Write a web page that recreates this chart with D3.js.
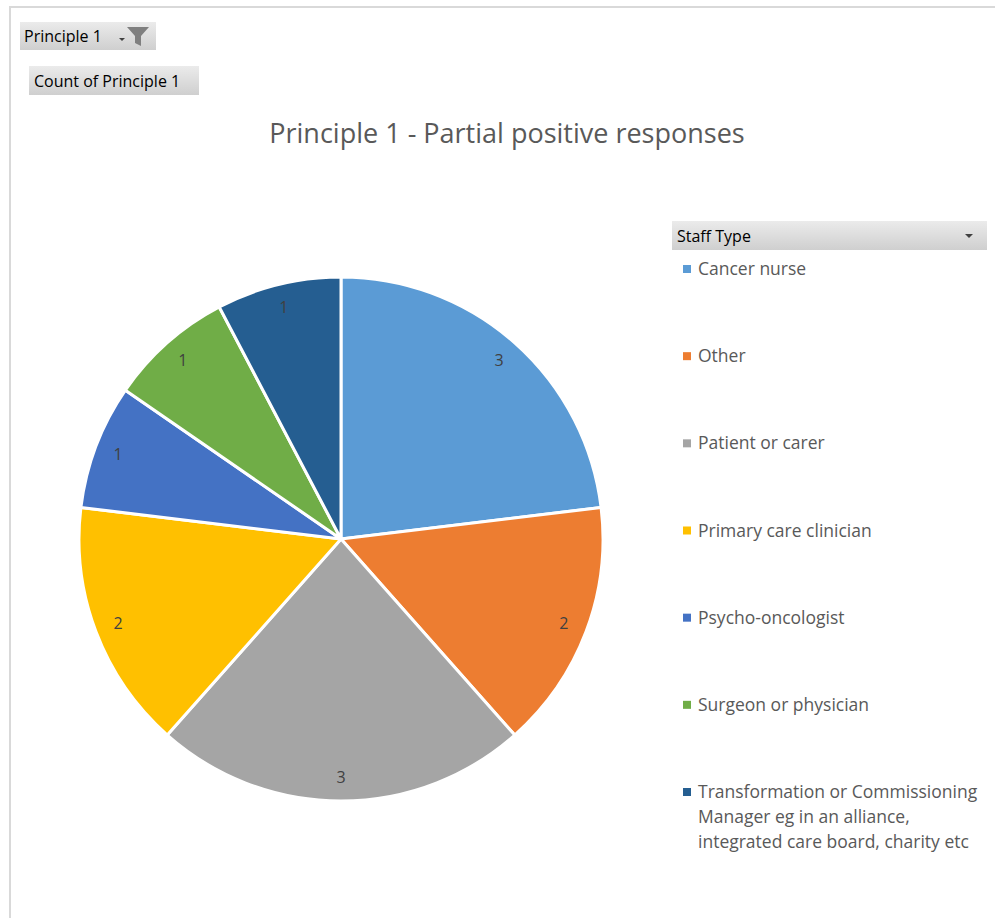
<!DOCTYPE html>
<html>
<head>
<meta charset="utf-8">
<script src="https://cdn.jsdelivr.net/npm/d3@7"></script>
<style>
  body { margin: 0; background: #fff; }
  svg { display: block; }
</style>
</head>
<body>
<div id="chart"></div>
<script>
// data
const categories = ['Cancer nurse', 'Other', 'Patient or carer', 'Primary care clinician',
    'Psycho-oncologist', 'Surgeon or physician',
    'Transformation or Commissioning Manager eg in an alliance, integrated care board, charity etc'];
const counts = [3, 2, 3, 2, 1, 1, 1];
const colors = ['#5b9bd5', '#ed7d31', '#a5a5a5', '#ffc000', '#4472c4', '#70ad47', '#255e91'];
const legendLines = [
    ['Cancer nurse'], ['Other'], ['Patient or carer'], ['Primary care clinician'],
    ['Psycho-oncologist'], ['Surgeon or physician'],
    ['Transformation or Commissioning', 'Manager eg in an alliance,', 'integrated care board, charity etc']
];

const W = 995, H = 918;
const svg = d3.select('#chart').append('svg')
    .attr('width', W)
    .attr('height', H);

const defs = svg.append('defs');
const grad = defs.append('linearGradient')
    .attr('id', 'btn')
    .attr('x1', 0).attr('y1', 0).attr('x2', 0).attr('y2', 1);
grad.append('stop').attr('offset', '0%').attr('stop-color', '#ebebeb');
grad.append('stop').attr('offset', '100%').attr('stop-color', '#cfcfcf');

// chart frame
svg.append('path')
    .attr('d', `M10,${H} L10,7 L${W},7`)
    .attr('fill', 'none')
    .attr('stroke', '#d9d9d9')
    .attr('stroke-width', 2);

// pivot field buttons
const font = '"Open Sans", sans-serif';
const btn1 = svg.append('g').attr('transform', 'translate(20,22)');
btn1.append('rect').attr('width', 136).attr('height', 28).attr('fill', 'url(#btn)');
btn1.append('text').attr('x', 4).attr('y', 20)
    .style('font-family', font).style('font-size', '16px').attr('fill', '#000')
    .text('Principle 1');
btn1.append('path').attr('d', 'M99,16 l6,0 l-3,3 z').attr('fill', '#404040');
btn1.append('path').attr('d', 'M107,5 l22,0 l-8,9 l0,10 l-6,-3 l0,-7 z').attr('fill', '#7f7f7f');

const btn2 = svg.append('g').attr('transform', 'translate(29,66)');
btn2.append('rect').attr('width', 170).attr('height', 29).attr('fill', 'url(#btn)');
btn2.append('text').attr('x', 5).attr('y', 21)
    .style('font-family', font).style('font-size', '16px').attr('fill', '#000')
    .text('Count of Principle 1');

// title
svg.append('text')
    .attr('x', 507).attr('y', 143)
    .attr('text-anchor', 'middle')
    .style('font-family', font).style('font-size', '27px')
    .attr('fill', '#595959')
    .text('Principle 1 - Partial positive responses');

// pie
const cx = 341, cy = 539, r = 262;
const pie = d3.pie().sort(null).value(d => d.value);
const arcs = pie(categories.map((c, i) => ({ name: c, value: counts[i], color: colors[i] })));
const arc = d3.arc().innerRadius(0).outerRadius(r);
const labelArc = d3.arc().innerRadius(r * 0.91).outerRadius(r * 0.91);

const g = svg.append('g').attr('transform', `translate(${cx},${cy})`);
g.selectAll('path.slice')
    .data(arcs)
    .join('path')
    .attr('class', 'slice')
    .attr('d', arc)
    .attr('fill', d => d.data.color)
    .attr('stroke', '#fff')
    .attr('stroke-width', 3)
    .attr('stroke-linejoin', 'round');

g.selectAll('text.lbl')
    .data(arcs)
    .join('text')
    .attr('class', 'lbl')
    .attr('transform', d => `translate(${labelArc.centroid(d)})`)
    .attr('text-anchor', 'middle')
    .attr('dy', '0.35em')
    .style('font-family', font).style('font-size', '16px')
    .attr('fill', '#404040')
    .text(d => d.data.value);

// legend header
const lh = svg.append('g').attr('transform', 'translate(672,221)');
lh.append('rect').attr('width', 315).attr('height', 29).attr('fill', 'url(#btn)');
lh.append('text').attr('x', 5).attr('y', 21)
    .style('font-family', font).style('font-size', '16px').attr('fill', '#000')
    .text('Staff Type');
lh.append('path').attr('d', 'M293,13 l8,0 l-4,4 z').attr('fill', '#404040');

// legend items
const legendY = d3.scalePoint()
    .domain(categories)
    .range([269, 792]);

const items = svg.selectAll('g.item')
    .data(categories)
    .join('g')
    .attr('class', 'item')
    .attr('transform', d => `translate(683,${legendY(d)})`);

items.append('rect')
    .attr('x', 0).attr('y', -4)
    .attr('width', 8).attr('height', 8)
    .attr('fill', (d, i) => colors[i]);

items.append('text')
    .style('font-family', font).style('font-size', '17.5px')
    .attr('fill', '#595959')
    .selectAll('tspan')
    .data((d, i) => legendLines[i])
    .join('tspan')
    .attr('x', 15)
    .attr('y', (d, j) => 6 + j * 25)
    .text(d => d);
</script>
</body>
</html>
